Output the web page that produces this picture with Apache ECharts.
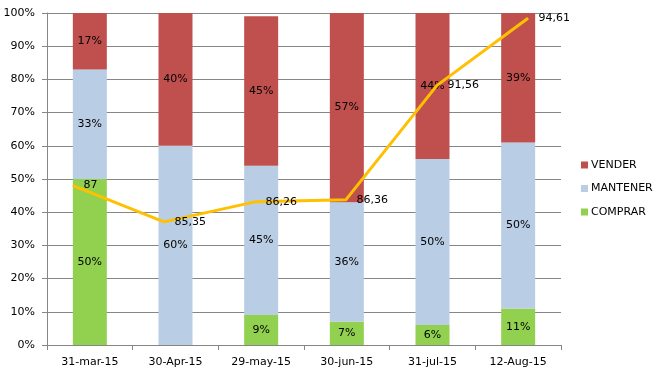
<!DOCTYPE html>
<html>
<head>
<meta charset="utf-8">
<script src="https://cdn.jsdelivr.net/npm/echarts@6/dist/echarts.min.js"></script>
<style>html,body{margin:0;padding:0;background:#fff}#c{width:662px;height:372px}</style>
</head>
<body>
<div id="c"></div>
<script>
var categories = ['31-mar-15','30-Apr-15','29-may-15','30-jun-15','31-jul-15','12-Aug-15'];
var comprar = [50, 0, 9, 7, 6, 11];
var mantener = [33, 60, 45, 36, 50, 50];
var vender = [17, 40, 45, 57, 44, 39];
var scores = [87, 85.35, 86.26, 86.36, 91.56, 94.61];
var yTicks = [0,10,20,30,40,50,60,70,80,90,100];

var FONT = 'DejaVu Sans';
var gridColor = '#868686';
var chart = echarts.init(document.getElementById('c'));
function pctLabel(p){ return p.value ? p.value + '%' : ''; }
var barLabel = {show:true, position:'inside', color:'#000', fontFamily:FONT, fontSize:11, formatter:pctLabel};
chart.setOption({
  animation:false,
  textStyle:{fontFamily:FONT},
  grid:[
    {left:47, right:101, top:13, bottom:27},
    {left:73, right:134, top:13, bottom:27}
  ],
  legend:{
    orient:'vertical', left:581, top:158, padding:0,
    itemWidth:7, itemHeight:7, itemGap:9.5,
    icon:'rect',
    data:['VENDER','MANTENER','COMPRAR'],
    textStyle:{fontFamily:FONT, fontSize:11, color:'#000', lineHeight:14, padding:[0,0,0,-2]}
  },
  xAxis:[
    {type:'category', gridIndex:0, data:categories,
     axisLine:{lineStyle:{color:gridColor}},
     axisTick:{show:true, length:5, lineStyle:{color:gridColor}},
     axisLabel:{color:'#000', fontFamily:FONT, fontSize:11, margin:12}},
    {type:'category', gridIndex:1, data:categories, boundaryGap:false, show:false}
  ],
  yAxis:[
    {type:'value', gridIndex:0, min:0, max:100, interval:10,
     axisLine:{show:true, lineStyle:{color:gridColor}},
     axisTick:{show:true, length:5, lineStyle:{color:gridColor}},
     splitLine:{lineStyle:{color:gridColor}},
     axisLabel:{color:'#000', fontFamily:FONT, fontSize:11, margin:12,
       formatter:function(v){ return yTicks.indexOf(v) >= 0 ? v + '%' : ''; }}},
    {type:'value', gridIndex:1, min:79.75, max:94.85, show:false, splitLine:{show:false}}
  ],
  series:[
    {name:'COMPRAR', type:'bar', stack:'s', barWidth:34, xAxisIndex:0, yAxisIndex:0,
     itemStyle:{color:'#92D050'}, label:barLabel, data:comprar},
    {name:'MANTENER', type:'bar', stack:'s', barWidth:34, xAxisIndex:0, yAxisIndex:0,
     itemStyle:{color:'#B9CDE5'}, label:barLabel, data:mantener},
    {name:'VENDER', type:'bar', stack:'s', barWidth:34, xAxisIndex:0, yAxisIndex:0,
     itemStyle:{color:'#C0504D'}, label:barLabel, data:vender},
    {name:'score', type:'line', xAxisIndex:1, yAxisIndex:1, data:scores,
     symbol:'circle', symbolSize:1, showSymbol:true, z:5,
     itemStyle:{color:'#FFC000'},
     lineStyle:{color:'#FFC000', width:3},
     label:{show:true, position:'right', distance:10, color:'#000', fontFamily:FONT, fontSize:11,
       formatter:function(p){ return String(p.value).replace('.', ','); }}}
  ]
});
</script>
</body>
</html>
